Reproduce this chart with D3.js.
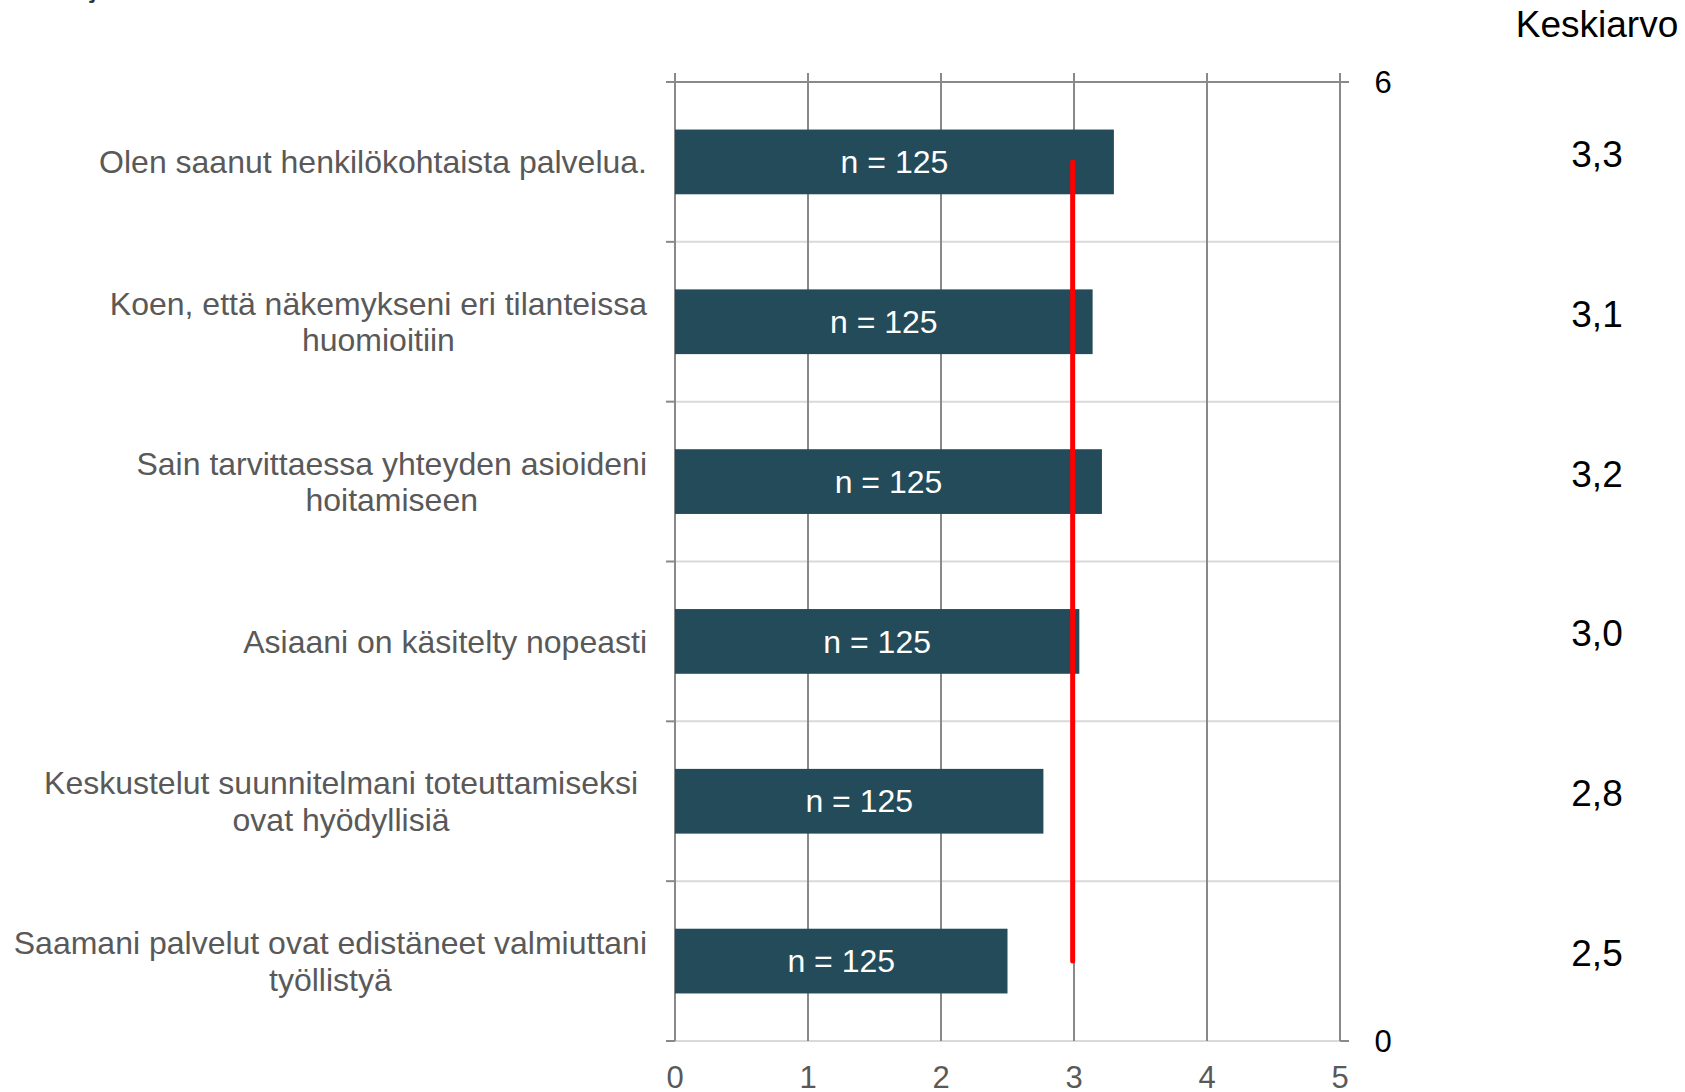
<!DOCTYPE html>
<html>
<head>
<meta charset="utf-8">
<script src="https://cdn.jsdelivr.net/npm/d3@7"></script>
<style>
  html, body { margin: 0; padding: 0; background: #fff; }
  svg { display: block; font-family: "Liberation Sans", Arial, sans-serif; }
</style>
</head>
<body>
<svg id="chart" width="1685" height="1092"></svg>
<script>
// ---- data ----
const categories = [
  ["Olen saanut henkilökohtaista palvelua."],
  ["Koen, että näkemykseni eri tilanteissa", "huomioitiin"],
  ["Sain tarvittaessa yhteyden asioideni", "hoitamiseen"],
  ["Asiaani on käsitelty nopeasti"],
  ["Keskustelut suunnitelmani toteuttamiseksi\u00a0", "ovat hyödyllisiä"],
  ["Saamani palvelut ovat edistäneet valmiuttani", "työllistyä"]
];
const meanValues = [3.30, 3.14, 3.21, 3.04, 2.77, 2.50];
const nLabels = ["n = 125", "n = 125", "n = 125", "n = 125", "n = 125", "n = 125"];
const meanLabels = ["3,3", "3,1", "3,2", "3,0", "2,8", "2,5"];
const xTicks = [0, 1, 2, 3, 4, 5];
const rightTicks = [0, 6];
const referenceValue = 2.99;
const meanHeader = "Keskiarvo";

// ---- layout ----
const svg = d3.select("#chart");
const pLeft = 675, pRight = 1340, pTop = 82, pBottom = 1041;
const gridColor = "#898989", lightColor = "#d9d9d9", barColor = "#234b5a";

const x = d3.scaleLinear().domain([0, 5]).range([pLeft, pRight]);
const y = d3.scaleBand().domain(d3.range(categories.length)).range([pTop, pBottom]).padding(0);
const yRight = d3.scaleLinear().domain([0, 6]).range([pBottom, pTop]);
const barH = y.bandwidth() * 0.405;

// partial title descender (title lies above the visible area)
svg.append("text").attr("x", 90).attr("y", -4).attr("font-size", 32).attr("fill", "#333").text("j");

// light horizontal band lines
const bounds = d3.range(1, categories.length + 1).map(i => pTop + i * y.bandwidth());
svg.append("g").selectAll("line").data(bounds).join("line")
  .attr("x1", (d, i) => i === bounds.length - 1 ? pLeft - 9 : pLeft)
  .attr("x2", (d, i) => i === bounds.length - 1 ? pRight + 9 : pRight)
  .attr("y1", d => d).attr("y2", d => d)
  .attr("stroke", lightColor).attr("stroke-width", 2);

// vertical gridlines (with top ticks)
svg.append("g").selectAll("line").data(xTicks).join("line")
  .attr("x1", d => x(d)).attr("x2", d => x(d))
  .attr("y1", pTop - 9).attr("y2", pBottom)
  .attr("stroke", gridColor).attr("stroke-width", 2);

// top axis line
svg.append("line").attr("x1", pLeft - 9).attr("x2", pRight + 9).attr("y1", pTop).attr("y2", pTop)
  .attr("stroke", gridColor).attr("stroke-width", 2);

// left ticks at band boundaries
const leftTickPos = [pTop].concat(bounds);
svg.append("g").selectAll("line").data(leftTickPos).join("line")
  .attr("x1", pLeft - 9).attr("x2", pLeft).attr("y1", d => d).attr("y2", d => d)
  .attr("stroke", gridColor).attr("stroke-width", 2);

// right axis ticks
svg.append("g").selectAll("line").data(rightTicks).join("line")
  .attr("x1", pRight).attr("x2", pRight + 9).attr("y1", d => yRight(d)).attr("y2", d => yRight(d))
  .attr("stroke", gridColor).attr("stroke-width", 2);
svg.append("g").selectAll("text").data(rightTicks).join("text")
  .attr("x", pRight + 43).attr("y", d => yRight(d)).attr("dy", "0.35em")
  .attr("text-anchor", "middle").attr("font-size", 31).attr("fill", "#000").text(d => d);

// bars
svg.append("g").selectAll("rect").data(meanValues).join("rect")
  .attr("x", x(0)).attr("width", d => x(d) - x(0))
  .attr("y", (d, i) => y(i) + (y.bandwidth() - barH) / 2).attr("height", barH)
  .attr("fill", barColor);

// n labels
svg.append("g").selectAll("text").data(meanValues).join("text")
  .attr("x", d => (x(0) + x(d)) / 2).attr("y", (d, i) => y(i) + y.bandwidth() / 2).attr("dy", "0.35em")
  .attr("text-anchor", "middle").attr("font-size", 32).attr("fill", "#fff")
  .text((d, i) => nLabels[i]);

// reference red line
svg.append("line")
  .attr("x1", x(referenceValue)).attr("x2", x(referenceValue))
  .attr("y1", y(0) + y.bandwidth() / 2).attr("y2", y(categories.length - 1) + y.bandwidth() / 2)
  .attr("stroke", "#ff0000").attr("stroke-width", 5).attr("stroke-linecap", "round");

// bottom tick labels
svg.append("g").selectAll("text").data(xTicks).join("text")
  .attr("x", d => x(d)).attr("y", 1077).attr("dy", "0.35em")
  .attr("text-anchor", "middle").attr("font-size", 31).attr("fill", "#595959").text(d => d);

// category labels (centered lines, block right-aligned; trailing space kept)
const labelRight = 647, lineH = 36.5;
categories.forEach((lines, i) => {
  const g = svg.append("g");
  const cy = y(i) + y.bandwidth() / 2;
  const texts = lines.map((t, j) => g.append("text")
    .attr("y", cy + (j - (lines.length - 1) / 2) * lineH).attr("dy", "0.35em")
    .attr("text-anchor", "middle").attr("font-size", 32).attr("fill", "#595959")
    .text(t));
  const fullW = d3.max(texts, t => t.node().getComputedTextLength());
  const widest = texts.reduce((a, b) => a.node().getComputedTextLength() >= b.node().getComputedTextLength() ? a : b);
  const txt = widest.text();
  const trimmed = txt.replace(/[\s\u00a0]+$/, "");
  widest.text(trimmed);
  const trimW = widest.node().getComputedTextLength();
  widest.text(trimmed);
  const center = labelRight - (fullW - trimW) - trimW / 2;
  texts.forEach(t => t.attr("x", center));
});

// mean column
svg.append("text").attr("x", 1597).attr("y", 23.6).attr("dy", "0.35em")
  .attr("text-anchor", "middle").attr("font-size", 37).attr("fill", "#000").text(meanHeader);
svg.append("g").selectAll("text").data(meanLabels).join("text")
  .attr("x", 1597).attr("y", (d, i) => y(i) + y.bandwidth() / 2 - 8).attr("dy", "0.35em")
  .attr("text-anchor", "middle").attr("font-size", 37).attr("fill", "#000").text(d => d);
</script>
</body>
</html>
